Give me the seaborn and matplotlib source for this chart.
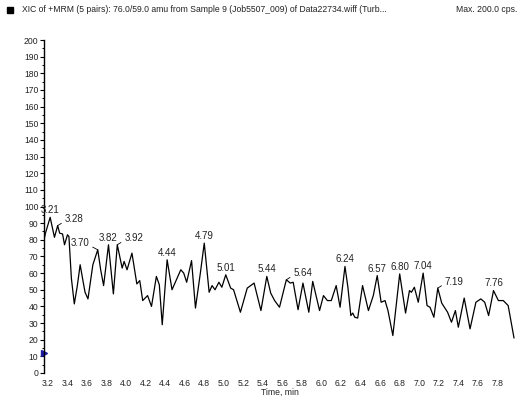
import matplotlib
matplotlib.use("Agg")
import matplotlib.pyplot as plt
import seaborn as sns
import numpy as np
import pandas as pd

times = [3.157, 3.175, 3.223, 3.267, 3.30, 3.32, 3.35, 3.37, 3.40, 3.415, 3.44, 3.47, 3.50, 3.53,
         3.56, 3.58, 3.61, 3.66, 3.71, 3.74, 3.77, 3.82, 3.87, 3.91, 3.96, 3.98, 4.01, 4.06,
         4.11, 4.14, 4.17, 4.22, 4.26, 4.31, 4.34, 4.37, 4.42, 4.47, 4.50, 4.56, 4.59, 4.62,
         4.67, 4.71, 4.76, 4.80, 4.85, 4.88, 4.91, 4.95, 4.98, 5.02, 5.07, 5.10, 5.17, 5.24,
         5.31, 5.38, 5.44, 5.48, 5.52, 5.57, 5.64, 5.68, 5.71, 5.76, 5.81, 5.87, 5.91, 5.98,
         6.02, 6.06, 6.10, 6.15, 6.19, 6.24, 6.27, 6.30, 6.32, 6.34, 6.37, 6.42, 6.48, 6.53,
         6.57, 6.61, 6.65, 6.68, 6.73, 6.80, 6.86, 6.90, 6.92, 6.95, 6.99, 7.04, 7.08, 7.11,
         7.15, 7.19, 7.23, 7.29, 7.33, 7.37, 7.40, 7.46, 7.52, 7.58, 7.63, 7.67, 7.71, 7.76,
         7.81, 7.86, 7.91, 7.97]
values = [79, 84, 93.5, 81.5, 88.5, 84, 83.5, 77, 83, 82, 57, 41.5, 52, 65,
          55, 48.5, 44.5, 65, 74, 62, 52.5, 77, 47.5, 77, 63, 67, 62, 72,
          53.5, 55.5, 43.5, 46.5, 40, 58, 53, 29, 68, 50, 54, 62, 60, 54.5,
          67.5, 39, 60, 78, 48.5, 52.5, 50, 54.5, 51.5, 59, 51, 50, 36.5, 51,
          54, 37.5, 58, 48, 43.5, 39.5, 56, 54, 54.5, 38, 54, 36.5, 55, 37.5,
          46.5, 43.5, 43.5, 52.5, 39.5, 64, 51.5, 34.5, 36, 33.5, 33, 52.5, 37.5, 46.5,
          58.5, 42.5, 43.5, 37.5, 22.5, 59.5, 36, 49.5, 48.5, 51.5, 42.5, 60, 40.5, 39.5,
          33.5, 51, 42, 36.5, 30.5, 37.5, 27.5, 45, 26.5, 42.5, 44.5, 42.5, 34.5, 49.5,
          43.5, 43.5, 40.5, 21]

peak_labels = ["3.21", "3.28", "3.70", "3.82", "3.92", "4.44", "4.79", "5.01",
               "5.44", "5.64", "6.24", "6.57", "6.80", "7.04", "7.19", "7.76"]
peak_times = [3.223, 3.30, 3.71, 3.82, 3.91, 4.42, 4.80, 5.02,
              5.44, 5.64, 6.24, 6.57, 6.80, 7.04, 7.19, 7.76]
peak_values = [93.5, 88.5, 74, 77, 77, 68, 78, 59,
               58, 56, 64, 58.5, 59.5, 60, 51, 49.5]
# label style: 0 = centered above, 1 = leader to the right, -1 = leader to the left
peak_side = [0, 1, -1, 0, 1, 0, 0, 0, 0, 1, 0, 0, 0, 0, 1, 0]

title = "XIC of +MRM (5 pairs): 76.0/59.0 amu from Sample 9 (Job5507_009) of Data22734.wiff (Turb..."
max_text = "Max. 200.0 cps."
x_ticks = [3.2, 3.4, 3.6, 3.8, 4.0, 4.2, 4.4, 4.6, 4.8, 5.0, 5.2, 5.4, 5.6, 5.8,
           6.0, 6.2, 6.4, 6.6, 6.8, 7.0, 7.2, 7.4, 7.6, 7.8]
y_ticks = list(range(0, 201, 10))

sns.set_theme(style="white")
plt.rcParams['font.family'] = ['Liberation Sans', 'DejaVu Sans']

fig = plt.figure(figsize=(5.21, 3.99), dpi=100)
ax = fig.add_axes([44/521, 1 - 373/399, 471/521, 333/399])

df = pd.DataFrame({"t": times, "v": values})
sns.lineplot(data=df, x="t", y="v", ax=ax, color="black", linewidth=0.9,
             estimator=None, sort=False)

ax.set_xlim(3.16, 7.98)
ax.set_ylim(0, 200)
ax.set_xticks(x_ticks)
ax.set_xticklabels([f"{v:.1f}" for v in x_ticks], fontsize=6.2, color="#222222")
ax.set_yticks(y_ticks)
ax.set_yticklabels([str(v) for v in y_ticks], fontsize=6.2, color="#222222")
ax.set_yticks(list(range(5, 200, 10)), minor=True)
ax.tick_params(axis="y", which="major", direction="out", length=3, width=0.8,
               color="black", left=True, pad=1)
ax.tick_params(axis="y", which="minor", direction="out", length=1.8, width=0.7,
               color="black", left=True)
ax.tick_params(axis="x", which="both", length=0, pad=4)
ax.set_xlabel("Time, min", fontsize=6.2, labelpad=0, color="#222222")
ax.set_ylabel("")
for s in ["top", "right", "bottom"]:
    ax.spines[s].set_visible(False)
ax.spines["left"].set_color("black")
ax.spines["left"].set_linewidth(1.0)
ax.grid(False)

# small blue marker at left edge
ax.plot([3.163], [12], marker=">", color="#1a1aa0", markersize=4, clip_on=False)

for lab, pt, pv, side in zip(peak_labels, peak_times, peak_values, peak_side):
    if side == 0:
        ax.annotate(lab, (pt, pv), xytext=(0, 1.5), textcoords="offset points",
                    ha="center", va="bottom", fontsize=7, color="#222222")
    elif side == 1:
        ax.annotate(lab, (pt, pv), xytext=(5, 1), textcoords="offset points",
                    ha="left", va="bottom", fontsize=7, color="#222222",
                    arrowprops=dict(arrowstyle="-", color="black", lw=0.6,
                                    shrinkA=0, shrinkB=0,
                                    relpos=(0, 0.3)))
    else:
        ax.annotate(lab, (pt, pv), xytext=(-6, 1), textcoords="offset points",
                    ha="right", va="bottom", fontsize=7, color="#222222",
                    arrowprops=dict(arrowstyle="-", color="black", lw=0.6,
                                    shrinkA=0, shrinkB=0,
                                    relpos=(1, 0.3)))

# header
fig.patches.append(plt.Rectangle((7/521, 1 - 13/399), 6/521, 6/399,
                                 transform=fig.transFigure, color="black"))
fig.text(22/521, 1 - 10/399, title, fontsize=6.2, va="center", ha="left", color="#222222")
fig.text(517/521, 1 - 10/399, max_text, fontsize=6.2, va="center", ha="right", color="#222222")

fig.savefig("out.png", dpi=100, facecolor="white")
